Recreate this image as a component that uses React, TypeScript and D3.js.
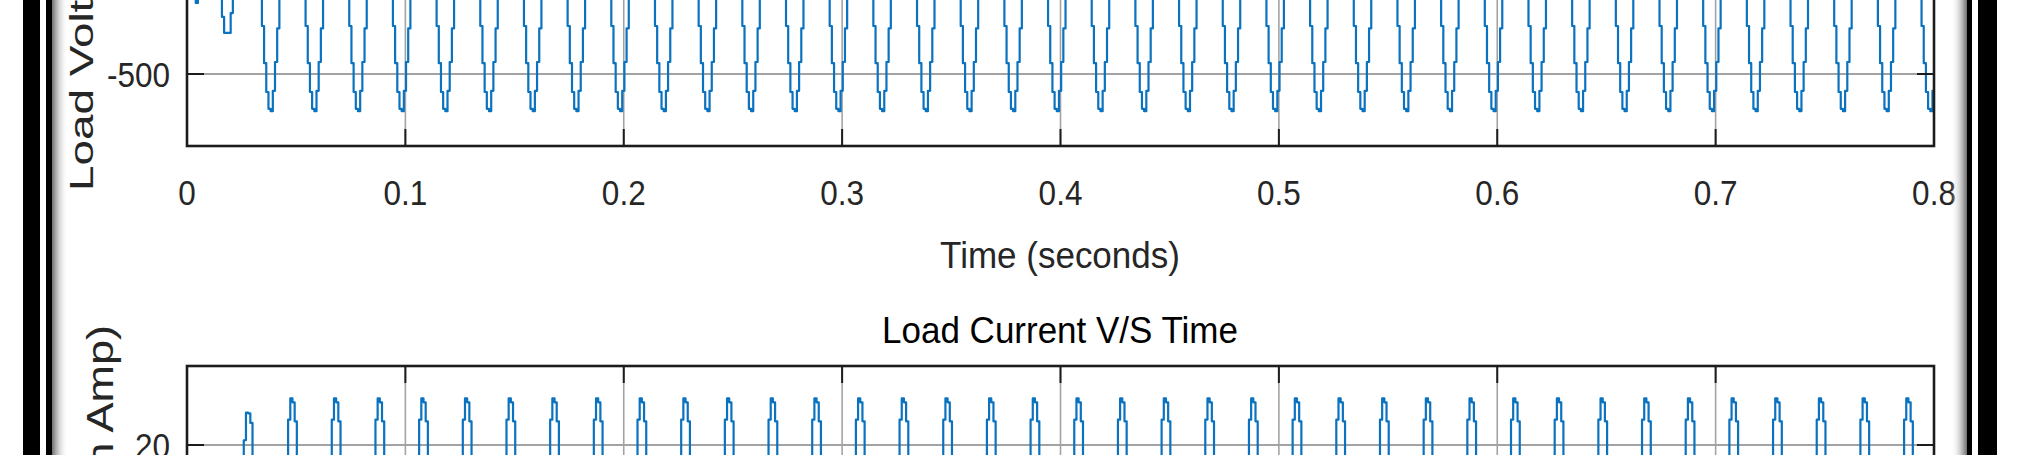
import React from 'react';
import * as d3 from 'd3';

// ---------- data ----------
const xTicks = [0, 0.1, 0.2, 0.3, 0.4, 0.5, 0.6, 0.7, 0.8];
const xTickLabels = ['0', '0.1', '0.2', '0.3', '0.4', '0.5', '0.6', '0.7', '0.8'];
const vTicks = [-500, 0, 500];
const vTickLabels = ['-500', '0', '500'];
const iTicks = [-20, 0, 20];
const iTickLabels = ['-20', '0', '20'];
const vDomain = [-800, 800];
const iDomain = [-30, 30];
const xDomain = [0, 0.8];

const sampleStep = 0.001; // seconds between held samples

// start-up transient, one value per ms from t = 0 s
const startupVolt = [
  0, 120, 60, -80, -204, -90, 80, 220, 330, 380, 360, 300, 200, 60, -90, -180,
  -262, -329, -329, -329, -246, -140, 20, 170, 300, 400, 480, 540, 565, 540, 450, 300, 110,
];
const startupCurr = [
  0, 1.5, 0.5, -2, -5, -3, 1, 4, 7, 9, 8.5, 7, 4.5, 1, -2.5, -5,
  -7.5, -9.5, -9.5, -9, -6.5, -3, 1, 6, 10, 16, 20.6, 24.1, 24.0, 22.8, 17, 10, 3,
];

// one steady-state cycle of held samples, starting 5 ms before a voltage trough
const voltShape = [
  -110, -300, -455, -575, -645, -655, -570, -450, -310, -120,
  95, 290, 455, 580, 640, 645, 585, 465, 300, 110,
];
const currShape = [
  -4.1, -11.9, -18.4, -23.1, -25.6, -25.9, -23.3, -18.6, -12.0, -4.0,
  4.0, 12.0, 18.4, 23.2, 25.9, 25.4, 23.0, 18.3, 11.8, 4.1,
];

// times (s) of each voltage trough
const troughTimes = [
  0.0383, 0.0583, 0.0783, 0.0983, 0.1183, 0.1383, 0.1583, 0.1783, 0.1983, 0.2183,
  0.2383, 0.2583, 0.2783, 0.2983, 0.3183, 0.3383, 0.3583, 0.3783, 0.3983, 0.4183,
  0.4383, 0.4583, 0.4783, 0.4983, 0.5183, 0.5383, 0.5583, 0.5783, 0.5983, 0.6183,
  0.6383, 0.6583, 0.6783, 0.6983, 0.7183, 0.7383, 0.7583, 0.7783, 0.7983,
];

// ---------- layout ----------
const W = 2017;
const H = 455;
const plotL = 187;
const plotR = 1934;
const top1Bottom = 146;
const top1Top = -238;
const p2Top = 366;
const p2Bottom = 840;

const FONT = "'Liberation Sans', Arial, Helvetica, sans-serif";
const BLUE = '#0a72bf';
const GRID = '#a3a3a3';
const AX = '#1c1c1c';
const TXT = '#262626';

type Pt = { t: number; v: number };

function buildSeries(startup: number[], shape: number[]): Pt[] {
  const pts: Pt[] = startup.map((v, i) => ({ t: i * sampleStep, v }));
  troughTimes.forEach((tc) => {
    const t0 = tc - 0.005;
    shape.forEach((v, i) => pts.push({ t: t0 + i * sampleStep, v }));
  });
  const last = pts[pts.length - 1];
  pts.push({ t: last.t + sampleStep, v: last.v });
  return pts;
}

export default function App() {
  const x = d3.scaleLinear().domain(xDomain).range([plotL, plotR]);
  const yV = d3.scaleLinear().domain(vDomain).range([top1Bottom, top1Top]);
  const yI = d3.scaleLinear().domain(iDomain).range([p2Bottom, p2Top]);

  const volt = buildSeries(startupVolt, voltShape);
  const curr = buildSeries(startupCurr, currShape);

  const lineV = d3
    .line<Pt>()
    .x((d) => x(d.t))
    .y((d) => yV(d.v))
    .curve(d3.curveStepAfter);
  const lineI = d3
    .line<Pt>()
    .x((d) => x(d.t))
    .y((d) => yI(d.v))
    .curve(d3.curveStepAfter);

  const tickLen = 17;

  const panel = (
    key: string,
    yS: d3.ScaleLinear<number, number>,
    yTicks: number[],
    yLabels: string[],
    yTop: number,
    yBot: number,
    d: string,
    clipId: string,
    showXLabels: boolean,
  ) => (
    <g key={key}>
      <defs>
        <clipPath id={clipId}>
          <rect x={plotL} y={yTop} width={plotR - plotL} height={yBot - yTop} />
        </clipPath>
      </defs>
      <rect x={plotL} y={yTop} width={plotR - plotL} height={yBot - yTop} fill="#fff" />
      {/* grid */}
      {xTicks.map((t) => (
        <line key={'gx' + t} x1={x(t)} x2={x(t)} y1={yTop} y2={yBot} stroke={GRID} strokeWidth={1.6} />
      ))}
      {yTicks.map((t) => (
        <line key={'gy' + t} x1={plotL} x2={plotR} y1={yS(t)} y2={yS(t)} stroke={GRID} strokeWidth={2} />
      ))}
      {/* data */}
      <path d={d} fill="none" stroke={BLUE} strokeWidth={2.2} strokeLinejoin="round" clipPath={`url(#${clipId})`} />
      {/* ticks */}
      {xTicks.map((t) => (
        <g key={'tx' + t}>
          <line x1={x(t)} x2={x(t)} y1={yBot} y2={yBot - tickLen} stroke={AX} strokeWidth={2} />
          <line x1={x(t)} x2={x(t)} y1={yTop} y2={yTop + tickLen} stroke={AX} strokeWidth={2} />
        </g>
      ))}
      {yTicks.map((t) => (
        <g key={'ty' + t}>
          <line x1={plotL} x2={plotL + tickLen} y1={yS(t)} y2={yS(t)} stroke={AX} strokeWidth={2} />
          <line x1={plotR} x2={plotR - tickLen} y1={yS(t)} y2={yS(t)} stroke={AX} strokeWidth={2} />
        </g>
      ))}
      {/* box */}
      <rect x={plotL} y={yTop} width={plotR - plotL} height={yBot - yTop} fill="none" stroke={AX} strokeWidth={2.6} />
      {/* y tick labels */}
      {yTicks.map((t, i) => (
        <text
          key={'yl' + t}
          transform={`translate(${plotL - 17},${yS(t) + 12.5}) scale(1,1.13)`}
          textAnchor="end"
          fontFamily={FONT}
          fontSize={31.5}
          fill={TXT}
        >
          {yLabels[i]}
        </text>
      ))}
      {showXLabels &&
        xTicks.map((t, i) => (
          <text
            key={'xl' + t}
            transform={`translate(${x(t)},${yBot + 59}) scale(1,1.13)`}
            textAnchor="middle"
            fontFamily={FONT}
            fontSize={31.5}
            fill={TXT}
          >
            {xTickLabels[i]}
          </text>
        ))}
    </g>
  );

  return (
    <svg
      width={W}
      height={H}
      viewBox={`0 0 ${W} ${H}`}
      style={{ position: 'absolute', left: 0, top: 0, display: 'block' }}
    >
      <defs>
        <linearGradient id="shadowL" x1="0" x2="1" y1="0" y2="0">
          <stop offset="0" stopColor="#6f6f6f" stopOpacity={1} />
          <stop offset="0.45" stopColor="#c8c8c8" stopOpacity={0.8} />
          <stop offset="1" stopColor="#ffffff" stopOpacity={0} />
        </linearGradient>
        <linearGradient id="shadowR" x1="1" x2="0" y1="0" y2="0">
          <stop offset="0" stopColor="#6f6f6f" stopOpacity={1} />
          <stop offset="0.45" stopColor="#c8c8c8" stopOpacity={0.8} />
          <stop offset="1" stopColor="#ffffff" stopOpacity={0} />
        </linearGradient>
      </defs>
      <rect x={0} y={0} width={W} height={H} fill="#fff" />

      {panel('p1', yV, vTicks, vTickLabels, top1Top, top1Bottom, lineV(volt) || '', 'clipV', true)}
      {panel('p2', yI, iTicks, iTickLabels, p2Top, p2Bottom, lineI(curr) || '', 'clipI', false)}

      {/* axis labels and title */}
      <text
        transform="translate(1060,268) scale(1,1.05)"
        textAnchor="middle"
        fontFamily={FONT}
        fontSize={35}
        fill={TXT}
      >
        Time (seconds)
      </text>
      <text
        transform="translate(1060,343) scale(1,1.05)"
        textAnchor="middle"
        fontFamily={FONT}
        fontSize={35}
        fill="#000"
      >
        Load Current V/S Time
      </text>
      <text
        transform="translate(93,191) scale(1,1.35) rotate(-90)"
        textAnchor="start"
        fontFamily={FONT}
        fontSize={34}
        fill={TXT}
      >
        Load Voltage (in Volts)
      </text>
      <text
        transform="translate(113,325) scale(1,1.25) rotate(-90)"
        textAnchor="end"
        fontFamily={FONT}
        fontSize={36}
        fill={TXT}
      >
        Load Current (in Amp)
      </text>

      {/* frame decoration */}
      <rect x={23} y={0} width={17} height={H} fill="#000" />
      <rect x={46} y={0} width={6} height={H} fill="#000" />
      <rect x={52} y={0} width={16} height={H} fill="url(#shadowL)" />
      <rect x={1951} y={0} width={16} height={H} fill="url(#shadowR)" />
      <rect x={1967} y={0} width={5} height={H} fill="#000" />
      <rect x={1978} y={0} width={19} height={H} fill="#000" />
    </svg>
  );
}
